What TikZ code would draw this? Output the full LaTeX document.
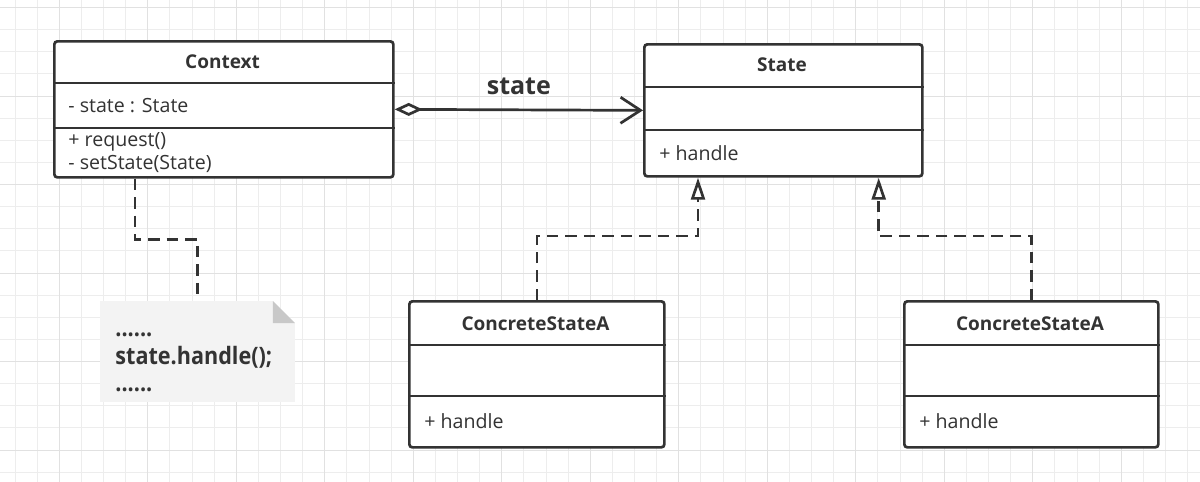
\documentclass[tikz,border=0pt]{standalone}
\usepackage{fontspec}
\setmainfont{Open Sans}
\newfontfamily\notefont[FakeStretch=0.9]{Open Sans}
\usepackage{tikz}
\usetikzlibrary{arrows.meta}

\definecolor{ink}{HTML}{333333}
\definecolor{gridminor}{HTML}{EDEDED}
\definecolor{gridmajor}{HTML}{E1E1E1}
\definecolor{notefill}{HTML}{F3F3F3}
\definecolor{notefold}{HTML}{C8C8C8}

\tikzset{
  classbox/.style={draw=ink, fill=white, line width=1.35pt, rounded corners=1.5pt, anchor=north west, inner sep=0pt},
  classname/.style={font=\bfseries\fontsize{9.5}{11.5}\selectfont, text=ink, inner sep=0pt},
  member/.style={font=\fontsize{9.8}{11.5}\selectfont, text=ink, anchor=west, inner sep=0pt, align=left},
  divider/.style={draw=ink, line width=1.35pt},
  notetext/.style={font=\notefont\bfseries\fontsize{12}{14}\selectfont, text=ink, anchor=base west, inner sep=0pt},
  dep/.style={draw=ink, line width=1.35pt, dash pattern=on 5.75pt off 3.5pt},
  realize/.style={dep, -{Triangle[open, length=11pt, width=7pt, fill=white]}},
  aggr/.style={draw=ink, line width=1.35pt, {Diamond[open, length=14pt, width=6.5pt, fill=white]}-{Straight Barb[length=10pt, width=13pt]}},
}

\begin{document}
\begin{tikzpicture}[x=0.5pt, y=-0.5pt]
  \useasboundingbox (0,0) rectangle (1200,482);
  \fill[white] (0,0) rectangle (1200,482);
  % grid
  \foreach \k in {0,...,53}
    \draw[gridminor, line width=0.5pt] ({15+22.125*\k},0) -- ({15+22.125*\k},482);
  \foreach \k in {0,...,21}
    \draw[gridminor, line width=0.5pt] (0,{7.5+22.125*\k}) -- (1200,{7.5+22.125*\k});
  \foreach \k in {0,...,12}
    \draw[gridmajor, line width=0.5pt] ({59+88.5*\k},0) -- ({59+88.5*\k},482);
  \foreach \k in {0,...,5}
    \draw[gridmajor, line width=0.5pt] (0,{7.5+88.5*\k}) -- (1200,{7.5+88.5*\k});

  % Context
  \node[classbox, minimum width=169.5pt, minimum height=68pt] (ctx) at (53,40) {};
  \draw[divider] ([yshift=-21.5pt]ctx.north west) -- ([yshift=-21.5pt]ctx.north east);
  \draw[divider] ([yshift=-44pt]ctx.north west) -- ([yshift=-44pt]ctx.north east);
  \node[classname] (ctx-name) at (222.5,62) {Context};
  \node[member] (ctx-attr) at (68,106) {- state : State};
  \node[member] (ctx-ops) at (68,153) {+ request()\\- setState(State)};

  % State
  \node[classbox, minimum width=139pt, minimum height=66pt] (state) at (643,43) {};
  \draw[divider] ([yshift=-22pt]state.north west) -- ([yshift=-22pt]state.north east);
  \draw[divider] ([yshift=-43.5pt]state.north west) -- ([yshift=-43.5pt]state.north east);
  \node[classname] (state-name) at (782,65) {State};
  \node[member] (state-ops) at (659,153) {+ handle};

  % ConcreteStateA (left)
  \node[classbox, minimum width=127.5pt, minimum height=73pt] (csa1) at (408,300) {};
  \draw[divider] ([yshift=-22.5pt]csa1.north west) -- ([yshift=-22.5pt]csa1.north east);
  \draw[divider] ([yshift=-48pt]csa1.north west) -- ([yshift=-48pt]csa1.north east);
  \node[classname] (csa1-name) at (535.5,324) {ConcreteStateA};
  \node[member] (csa1-ops) at (424,421) {+ handle};

  % ConcreteStateA (right)
  \node[classbox, minimum width=127pt, minimum height=73pt] (csa2) at (903,300) {};
  \draw[divider] ([yshift=-22.5pt]csa2.north west) -- ([yshift=-22.5pt]csa2.north east);
  \draw[divider] ([yshift=-48pt]csa2.north west) -- ([yshift=-48pt]csa2.north east);
  \node[classname] (csa2-name) at (1030,324) {ConcreteStateA};
  \node[member] (csa2-ops) at (919,421) {+ handle};

  % note
  \node[anchor=north west, minimum width=97pt, minimum height=50pt, inner sep=0pt] (note) at (100,301) {};
  \fill[notefill] (note.north west) -- ([xshift=-11pt]note.north east) -- ([yshift=-11pt]note.north east) -- (note.south east) -- (note.south west) -- cycle;
  \fill[notefold] ([xshift=-11pt]note.north east) -- ([yshift=-11pt]note.north east) -- ([xshift=-11pt,yshift=-11pt]note.north east) -- cycle;
  \node[notetext] (note-l1) at (115,336) {......};
  \node[notetext] (note-l2) at (115,364) {state.handle();};
  \node[notetext] (note-l3) at (115,391) {......};

  % connectors
  \draw[aggr] (ctx.east) -- (state.west)
    node[midway, above=7pt, font=\bfseries\fontsize{12.5}{14}\selectfont, text=ink, inner sep=0pt] (agg-label) {state};
  \draw[dep] ([xshift=41pt]ctx.south west) -- ++(0,61) -| (note.north);
  \draw[realize] (csa1.north) -- ++(0,-64) -| ([xshift=27.5pt]state.south west);
  \draw[realize] (csa2.north) -- ++(0,-64) -| ([xshift=-22.5pt]state.south east);
\end{tikzpicture}
\end{document}
